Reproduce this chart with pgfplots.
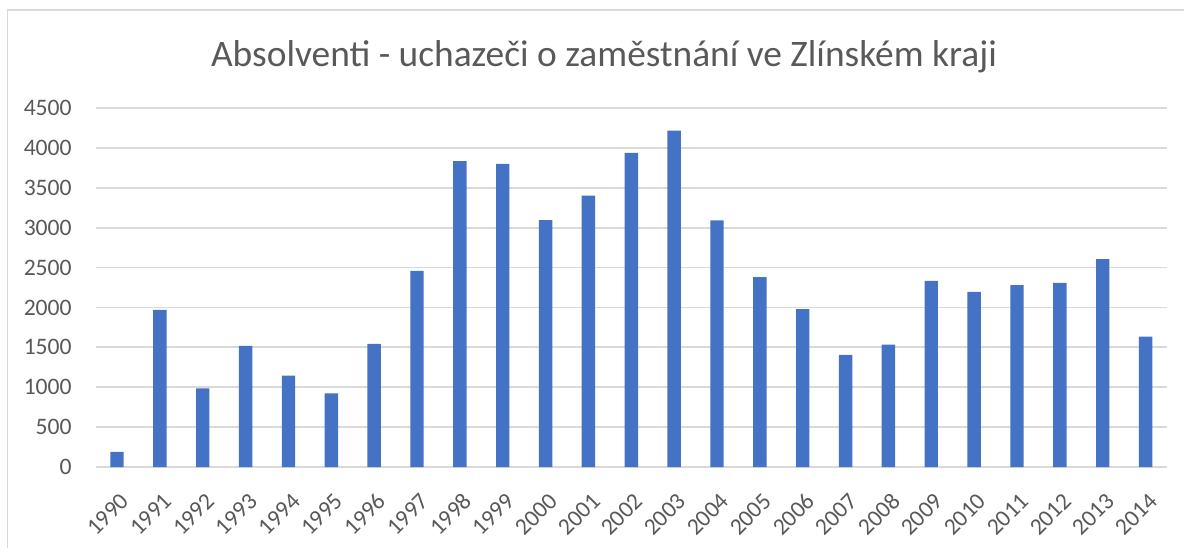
\documentclass[border=0pt]{standalone}
\usepackage{pgfplots}
\pgfplotsset{compat=1.18}
\usepackage{fontspec}
\setmainfont{Carlito}
\definecolor{barblue}{HTML}{4472C4}
\definecolor{gridgray}{HTML}{D9D9D9}
\definecolor{txtgray}{HTML}{595959}
\definecolor{framegray}{HTML}{D9D9D9}
\newcommand\tl{\fontsize{11.8}{14}\selectfont}
\begin{document}
\begin{tikzpicture}
\useasboundingbox (0,0) rectangle (592pt,273.5pt);
\draw[framegray, line width=0.8pt] (3.8pt,-10pt) -- (3.8pt,268.5pt) -- (600pt,268.5pt);
\node[anchor=base, text=txtgray, font=\fontsize{18.7}{22}\selectfont] at (302pt,240pt) {Absolventi - uchazeči o zaměstnání ve Zlínském kraji};
\begin{axis}[
  at={(47.8pt,40pt)}, anchor=south west,
  scale only axis, width=535.7pt, height=179.5pt,
  ybar, bar width=6.7pt,
  xmin=1989.5, xmax=2014.5, ymin=0, ymax=4500,
  ytick={0,500,...,4500},
  xtick={1990,...,2014},
  /pgf/number format/assume math mode=true,
  /pgf/number format/1000 sep={},
  xticklabel={\tl\pgfmathprintnumber{\tick}},
  yticklabel={\tl\pgfmathprintnumber{\tick}},
  axis line style={draw=none},
  major tick length=0pt,
  ymajorgrids, grid style={gridgray, line width=0.9pt},
  ticklabel style={text=txtgray, font=\tl, inner sep=0pt},
  yticklabel style={anchor=east, xshift=-11.8pt},
  xticklabel style={xshift=4pt, yshift=-15pt, rotate=45, anchor=east},
]
\addplot[fill=barblue, draw=none] coordinates {
(1990,190) (1991,1970) (1992,985) (1993,1517) (1994,1145) (1995,922) (1996,1542) (1997,2459) (1998,3834) (1999,3800)
(2000,3096) (2001,3402) (2002,3939) (2003,4215) (2004,3092) (2005,2380) (2006,1978) (2007,1404) (2008,1534)
(2009,2334) (2010,2196) (2011,2279) (2012,2309) (2013,2606) (2014,1634)
};
\end{axis}
\end{tikzpicture}
\end{document}
